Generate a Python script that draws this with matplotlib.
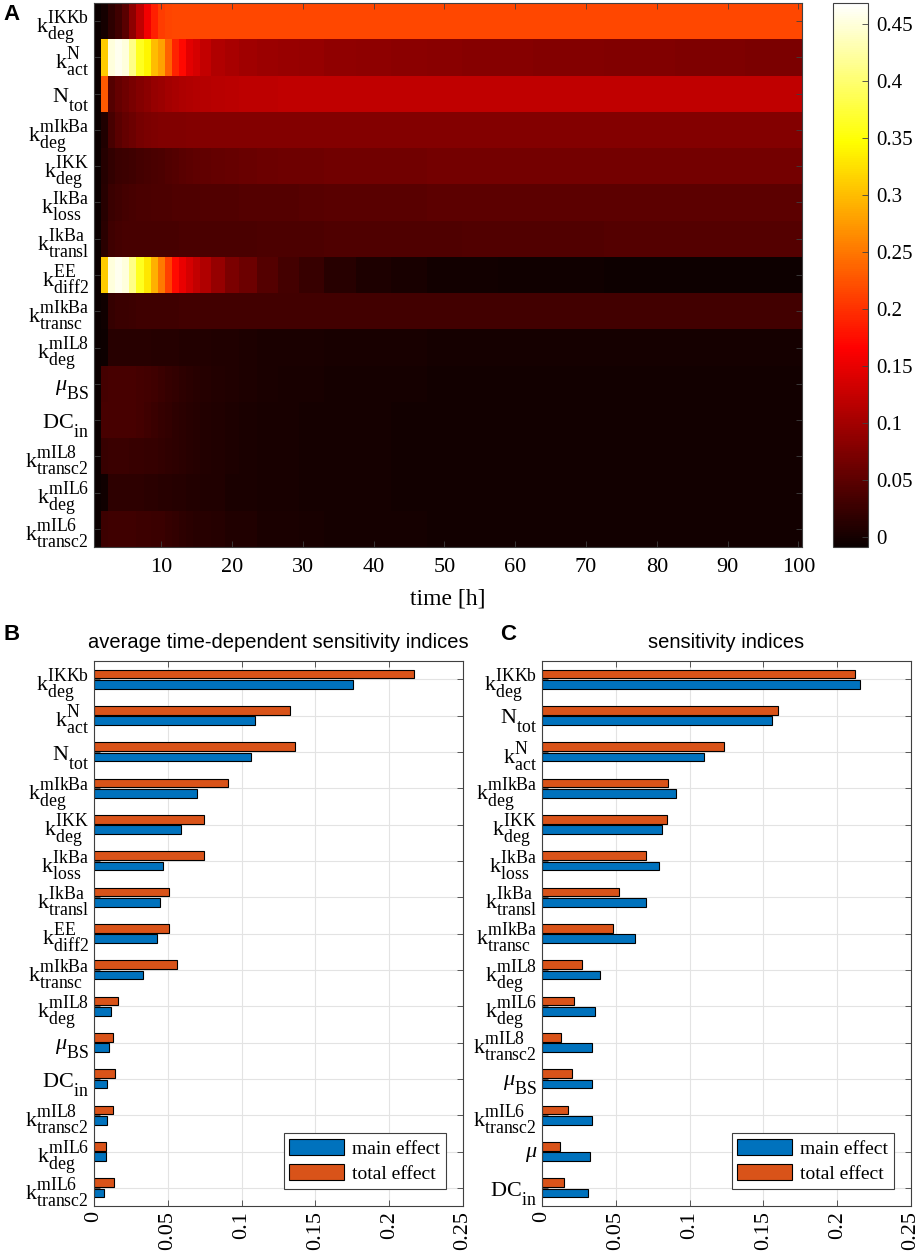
import numpy as np
import matplotlib
matplotlib.use('Agg')
import matplotlib.pyplot as plt
import matplotlib._mathtext as mt
from matplotlib.patches import Patch

plt.rcParams['font.family'] = 'serif'
plt.rcParams['font.serif'] = ['Liberation Serif', 'DejaVu Serif']
plt.rcParams['mathtext.fontset'] = 'custom'
plt.rcParams['mathtext.rm'] = 'Liberation Serif'
plt.rcParams['mathtext.it'] = 'Liberation Serif:italic'
plt.rcParams['mathtext.bf'] = 'Liberation Serif:bold'
# MATLAB's TeX labels use larger, more spread scripts than mathtext's default
mt.SHRINK_FACTOR = 0.8
mt.FontConstantsBase.sup1 = 0.95
mt.FontConstantsBase.sub1 = 0.9
mt.FontConstantsBase.sub2 = 0.68

# ---- parameter labels ----
L = {
    'kdeg_IKKb': r'$\mathrm{k}_{\mathrm{deg}}^{\mathrm{IKKb}}$',
    'kact_N': r'$\mathrm{k}_{\mathrm{act}}^{\mathrm{N}}$',
    'Ntot': r'$\mathrm{N}_{\mathrm{tot}}$',
    'kdeg_mIkBa': r'$\mathrm{k}_{\mathrm{deg}}^{\mathrm{mIkBa}}$',
    'kdeg_IKK': r'$\mathrm{k}_{\mathrm{deg}}^{\mathrm{IKK}}$',
    'kloss_IkBa': r'$\mathrm{k}_{\mathrm{loss}}^{\mathrm{IkBa}}$',
    'ktransl_IkBa': r'$\mathrm{k}_{\mathrm{transl}}^{\mathrm{IkBa}}$',
    'kdiff2_EE': r'$\mathrm{k}_{\mathrm{diff2}}^{\mathrm{EE}}$',
    'ktransc_mIkBa': r'$\mathrm{k}_{\mathrm{transc}}^{\mathrm{mIkBa}}$',
    'kdeg_mIL8': r'$\mathrm{k}_{\mathrm{deg}}^{\mathrm{mIL8}}$',
    'muBS': r'$\mu_{\mathrm{BS}}$',
    'DCin': r'$\mathrm{DC}_{\mathrm{in}}$',
    'ktransc2_mIL8': r'$\mathrm{k}_{\mathrm{transc2}}^{\mathrm{mIL8}}$',
    'kdeg_mIL6': r'$\mathrm{k}_{\mathrm{deg}}^{\mathrm{mIL6}}$',
    'ktransc2_mIL6': r'$\mathrm{k}_{\mathrm{transc2}}^{\mathrm{mIL6}}$',
    'mu': r'$\mu$',
}

# ---- panel A: time-dependent indices ----
time_h = [1, 2, 3, 4, 5, 6, 7, 8, 9, 10, 11, 12, 13, 14, 15, 16, 18, 20, 22,
          25, 28, 31, 35, 40, 45, 50, 55, 60, 65, 70, 75, 80, 85, 90, 95, 100]

a_kdeg_IKKb = [-0.008, 0.0, 0.017, 0.029, 0.047, 0.086, 0.12, 0.155, 0.188, 0.208, 0.214, 0.216, 0.216, 0.216, 0.215, 0.215, 0.215, 0.215, 0.215,
               0.216, 0.216, 0.216, 0.216, 0.216, 0.216, 0.216, 0.216, 0.216, 0.216, 0.216, 0.216, 0.216, 0.216, 0.216, 0.216, 0.216]
a_kact_N = [-0.008, 0.31, 0.45, 0.46, 0.45, 0.41, 0.36, 0.34, 0.30, 0.28, 0.234, 0.19, 0.17, 0.145, 0.135, 0.122, 0.11, 0.103, 0.099,
            0.095, 0.092, 0.09, 0.087, 0.085, 0.083, 0.082, 0.08, 0.079, 0.078, 0.077, 0.076, 0.075, 0.074, 0.073, 0.072, 0.072]
a_Ntot = [-0.008, 0.229, 0.045, 0.055, 0.063, 0.07, 0.078, 0.084, 0.09, 0.095, 0.1, 0.104, 0.107, 0.11, 0.112, 0.113, 0.115, 0.117, 0.118,
          0.119, 0.12, 0.12, 0.121, 0.121, 0.121, 0.121, 0.121, 0.121, 0.121, 0.121, 0.121, 0.121, 0.121, 0.121, 0.121, 0.121]
a_kdeg_mIkBa = [-0.008, 0.006, 0.035, 0.048, 0.055, 0.06, 0.068, 0.072, 0.074, 0.075, 0.076, 0.076, 0.076, 0.077, 0.077, 0.077, 0.077, 0.077, 0.077,
                0.077, 0.077, 0.077, 0.077, 0.077, 0.077, 0.077, 0.077, 0.077, 0.077, 0.077, 0.077, 0.077, 0.077, 0.077, 0.077, 0.077]
a_kdeg_IKK = [-0.008, 0.01, 0.02, 0.025, 0.028, 0.03, 0.032, 0.034, 0.036, 0.039, 0.042, 0.045, 0.047, 0.05, 0.052, 0.054, 0.056, 0.058, 0.059,
              0.061, 0.062, 0.063, 0.064, 0.065, 0.065, 0.066, 0.066, 0.066, 0.066, 0.066, 0.066, 0.066, 0.066, 0.066, 0.066, 0.066]
a_kloss_IkBa = [-0.008, 0.012, 0.025, 0.03, 0.033, 0.035, 0.036, 0.037, 0.038, 0.038, 0.039, 0.04, 0.04, 0.041, 0.041, 0.042, 0.042, 0.043, 0.044,
                0.045, 0.045, 0.046, 0.047, 0.048, 0.048, 0.049, 0.049, 0.049, 0.05, 0.05, 0.05, 0.05, 0.05, 0.05, 0.05, 0.05]
a_ktransl_IkBa = [-0.008, 0.015, 0.03, 0.033, 0.034, 0.034, 0.034, 0.034, 0.035, 0.035, 0.035, 0.035, 0.036, 0.036, 0.036, 0.036, 0.036, 0.037, 0.037,
                  0.038, 0.038, 0.039, 0.04, 0.04, 0.041, 0.041, 0.042, 0.042, 0.043, 0.043, 0.044, 0.044, 0.045, 0.045, 0.045, 0.045]
a_kdiff2_EE = [-0.008, 0.31, 0.45, 0.46, 0.45, 0.41, 0.36, 0.33, 0.29, 0.25, 0.21, 0.172, 0.15, 0.135, 0.122, 0.11, 0.09, 0.072, 0.06,
               0.045, 0.033, 0.024, 0.013, 0.005, 0.001, -0.002, -0.003, -0.004, -0.005, -0.005, -0.006, -0.006, -0.007, -0.007, -0.007, -0.007]
a_ktransc_mIkBa = [-0.008, -0.004, 0.022, 0.025, 0.026, 0.028, 0.029, 0.03, 0.03, 0.03, 0.03, 0.03, 0.031, 0.031, 0.031, 0.031, 0.031, 0.031, 0.031,
                   0.031, 0.031, 0.031, 0.031, 0.031, 0.031, 0.031, 0.031, 0.031, 0.031, 0.031, 0.031, 0.031, 0.031, 0.031, 0.031, 0.031]
a_kdeg_mIL8 = [-0.008, -0.006, 0.013, 0.013, 0.013, 0.012, 0.012, 0.012, 0.011, 0.011, 0.01, 0.01, 0.009, 0.009, 0.008, 0.008, 0.007, 0.006, 0.005,
               0.004, 0.003, 0.003, 0.002, 0.001, 0.001, 0.0, 0.0, 0.0, 0.0, 0.0, 0.0, 0.0, 0.0, 0.0, 0.0, 0.0]
a_muBS = [-0.008, 0.033, 0.035, 0.035, 0.035, 0.034, 0.033, 0.031, 0.029, 0.026, 0.022, 0.019, 0.016, 0.014, 0.012, 0.01, 0.008, 0.006, 0.005,
          0.003, 0.002, 0.001, 0.0, -0.001, -0.001, -0.002, -0.002, -0.002, -0.002, -0.002, -0.002, -0.002, -0.002, -0.002, -0.002, -0.002]
a_DCin = [-0.008, 0.034, 0.035, 0.035, 0.035, 0.034, 0.032, 0.03, 0.026, 0.022, 0.019, 0.016, 0.014, 0.012, 0.01, 0.009, 0.007, 0.005, 0.004,
          0.002, 0.001, 0.0, -0.001, -0.001, -0.002, -0.002, -0.002, -0.002, -0.002, -0.002, -0.002, -0.002, -0.002, -0.002, -0.002, -0.002]
a_ktransc2_mIL8 = [-0.008, 0.024, 0.025, 0.025, 0.025, 0.024, 0.023, 0.022, 0.021, 0.02, 0.018, 0.016, 0.014, 0.012, 0.01, 0.009, 0.007, 0.005, 0.004,
                   0.002, 0.001, 0.0, -0.001, -0.001, -0.002, -0.002, -0.002, -0.002, -0.002, -0.002, -0.002, -0.002, -0.002, -0.002, -0.002, -0.002]
a_kdeg_mIL6 = [-0.008, -0.005, 0.017, 0.017, 0.017, 0.016, 0.016, 0.015, 0.014, 0.013, 0.012, 0.011, 0.01, 0.009, 0.008, 0.007, 0.006, 0.004, 0.003,
               0.002, 0.001, 0.0, -0.001, -0.001, -0.002, -0.002, -0.002, -0.002, -0.002, -0.002, -0.002, -0.002, -0.002, -0.002, -0.002, -0.002]
a_ktransc2_mIL6 = [-0.008, 0.028, 0.029, 0.029, 0.029, 0.029, 0.028, 0.027, 0.026, 0.025, 0.022, 0.019, 0.017, 0.015, 0.013, 0.012, 0.01, 0.007, 0.006,
                   0.004, 0.003, 0.002, 0.0, -0.001, -0.001, -0.002, -0.002, -0.002, -0.002, -0.002, -0.002, -0.002, -0.002, -0.002, -0.002, -0.002]

order_A = ['kdeg_IKKb', 'kact_N', 'Ntot', 'kdeg_mIkBa', 'kdeg_IKK', 'kloss_IkBa', 'ktransl_IkBa', 'kdiff2_EE',
           'ktransc_mIkBa', 'kdeg_mIL8', 'muBS', 'DCin', 'ktransc2_mIL8', 'kdeg_mIL6', 'ktransc2_mIL6']
rows_A = [a_kdeg_IKKb, a_kact_N, a_Ntot, a_kdeg_mIkBa, a_kdeg_IKK, a_kloss_IkBa, a_ktransl_IkBa, a_kdiff2_EE,
          a_ktransc_mIkBa, a_kdeg_mIL8, a_muBS, a_DCin, a_ktransc2_mIL8, a_kdeg_mIL6, a_ktransc2_mIL6]

# ---- panel B: average time-dependent indices ----
order_B = order_A
main_B = [0.1752, 0.1092, 0.1065, 0.0698, 0.059, 0.0468, 0.0446, 0.043, 0.0333, 0.0115, 0.0099, 0.009, 0.0086, 0.0079, 0.007]
total_B = [0.2171, 0.1329, 0.136, 0.0908, 0.0748, 0.0748, 0.0507, 0.0509, 0.0563, 0.0162, 0.0131, 0.0142, 0.0131, 0.0081, 0.0137]

# ---- panel C: sensitivity indices ----
order_C = ['kdeg_IKKb', 'Ntot', 'kact_N', 'kdeg_mIkBa', 'kdeg_IKK', 'kloss_IkBa', 'ktransl_IkBa', 'ktransc_mIkBa',
           'kdeg_mIL8', 'kdeg_mIL6', 'ktransc2_mIL8', 'muBS', 'ktransc2_mIL6', 'mu', 'DCin']
main_C = [0.2155, 0.1561, 0.1095, 0.0908, 0.0811, 0.0793, 0.0703, 0.0631, 0.0392, 0.036, 0.034, 0.034, 0.0338, 0.0324, 0.0311]
total_C = [0.2119, 0.1599, 0.123, 0.0851, 0.0845, 0.0703, 0.0525, 0.048, 0.0273, 0.0218, 0.0128, 0.02, 0.0178, 0.0119, 0.0149]

BLUE = '#0072BD'
ORANGE = '#D95319'
SPINE = '#404040'
SERIF = 'Liberation Serif'
LABEL_FS = 16

fig = plt.figure(figsize=(9.2, 12.52), dpi=100)
W, H = 920, 1252


def px_axes(l, t, r, b):
    return fig.add_axes([l / W, 1 - b / H, (r - l) / W, (b - t) / H])


def style(ax):
    for s in ax.spines.values():
        s.set_color(SPINE)
        s.set_linewidth(0.8)
    ax.tick_params(direction='in', top=True, right=True, length=4, width=0.6, color=SPINE,
                   labelfontfamily=SERIF)


# heatmap
axA = px_axes(94, 3, 802, 547)
Z = np.array(rows_A)
mesh = axA.pcolormesh(time_h, np.arange(len(order_A)), Z, shading='nearest', cmap='hot', vmin=-0.009, vmax=0.468)
axA.set_xlim(0.5, 100.5)
axA.set_ylim(len(order_A) - 0.5, -0.5)
axA.set_xticks(range(10, 101, 10))
axA.set_xticklabels([str(v) for v in range(10, 101, 10)], fontsize=16, family=SERIF)
axA.set_yticks(np.arange(len(order_A)))
axA.set_yticklabels([L[k] for k in order_A], fontsize=LABEL_FS)
axA.set_xlabel('time [h]', fontsize=17, labelpad=8, family=SERIF)
style(axA)
axA.tick_params(axis='x', pad=8)

cax = px_axes(833, 3, 868, 547)
cb = fig.colorbar(mesh, cax=cax)
cb.set_ticks(np.arange(0, 0.451, 0.05))
cb.set_ticklabels(['%g' % round(v, 2) for v in np.arange(0, 0.451, 0.05)])
cb.outline.set_edgecolor(SPINE)
cb.outline.set_linewidth(0.8)
cax.tick_params(direction='in', length=4, width=0.6, color=SPINE, labelsize=15, pad=6,
                labelfontfamily=SERIF)


def bar_panel(ax, order, main, total, title):
    pos = np.arange(1, len(order) + 1)
    ax.set_axisbelow(True)
    ax.grid(True, color='#e3e3e3', linewidth=0.8)
    ax.barh(pos - 0.143, total, height=0.24, color=ORANGE, edgecolor='black', linewidth=0.8)
    ax.barh(pos + 0.143, main, height=0.24, color=BLUE, edgecolor='black', linewidth=0.8)
    ax.set_xlim(0, 0.25)
    ax.set_ylim(len(order) + 0.5, 0.5)
    ax.set_yticks(pos)
    ax.set_yticklabels([L[k] for k in order], fontsize=LABEL_FS)
    ticks = [0, 0.05, 0.1, 0.15, 0.2, 0.25]
    ax.set_xticks(ticks)
    ax.set_xticklabels(['%g' % t for t in ticks], rotation=90, fontsize=16, family=SERIF)
    ax.set_title(title, family='Liberation Sans', fontsize=14.5, pad=9)
    style(ax)
    handles = [Patch(facecolor=BLUE, edgecolor='black', linewidth=0.8, label='main effect'),
               Patch(facecolor=ORANGE, edgecolor='black', linewidth=0.8, label='total effect')]
    leg = ax.legend(handles=handles, loc='lower right', prop={'family': SERIF, 'size': 14},
                    fancybox=False, framealpha=1, edgecolor=SPINE, handlelength=2.8,
                    handleheight=0.9, borderpad=0.3, labelspacing=0.3, handletextpad=0.4,
                    borderaxespad=0.9)
    leg.get_frame().set_linewidth(0.8)


axB = px_axes(94, 661, 463, 1206)
bar_panel(axB, order_B, main_B, total_B, 'average time-dependent sensitivity indices')
axC = px_axes(542, 661, 911, 1206)
bar_panel(axC, order_C, main_C, total_C, 'sensitivity indices')

for letter, x, y in [('A', 12, 14), ('B', 12, 634), ('C', 508, 634)]:
    fig.text(x / W, 1 - y / H, letter, family='Liberation Sans', fontweight='bold', fontsize=16,
             ha='center', va='center')

fig.savefig('out.png', dpi=100)
